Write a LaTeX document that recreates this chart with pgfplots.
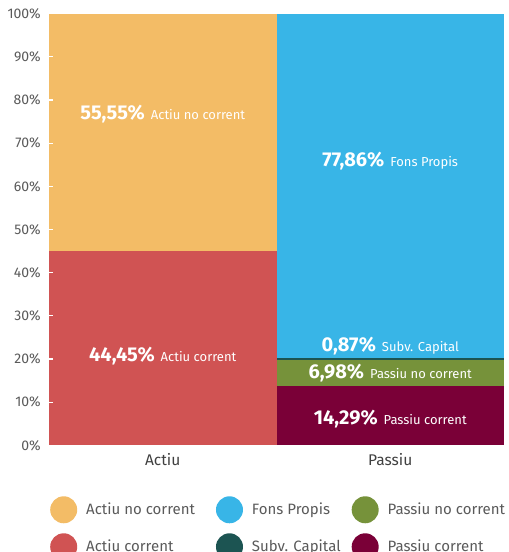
\documentclass[border=0pt]{standalone}
\usepackage{pgfplots}
\usepackage{pgfplotstable}
\pgfplotsset{compat=1.18}
\usepackage{fontspec}
\setmainfont{Fira Sans}
\definecolor{cOrange}{HTML}{F3BC66}
\definecolor{cRed}{HTML}{D05353}
\definecolor{cBlue}{HTML}{38B5E7}
\definecolor{cGreen}{HTML}{76923A}
\definecolor{cTeal}{HTML}{1C5452}
\definecolor{cMaroon}{HTML}{7A0037}
\definecolor{cTick}{HTML}{5A5A5A}
\newcommand{\lbl}[2]{{\fontsize{20}{20}\selectfont\bfseries #1\%}\hspace{6pt}{\fontsize{13}{13}\selectfont #2}}
% segment heights as drawn in the reference (labels give the stated shares)
\pgfplotstableread{
x  Acor   Anc    Pcor   Pnc   Subv  Fons
0  45.0   55.0   0      0     0     0
1  0      0      13.7   6.1   0.5   79.7
}\datatable
\begin{document}
\begin{tikzpicture}
\useasboundingbox (0,0) rectangle (509pt,-552pt);
\begin{axis}[
  at={(49pt,-445.3pt)}, anchor=south west,
  scale only axis, width=455pt, height=431.6pt,
  ybar stacked, bar width=1,
  xmin=-0.5, xmax=1.5, ymin=0, ymax=100,
  axis line style={draw=none},
  axis on top,
  xtick={0,1}, xticklabels={Actiu,Passiu},
  ytick={0,10,...,100},
  yticklabels={0\%,10\%,20\%,30\%,40\%,50\%,60\%,70\%,80\%,90\%,100\%},
  xtick style={draw=none},
  ytick style={draw=white, line width=1.2pt},
  tick align=inside, major tick length=4pt,
  ytick pos=left,
  yticklabel style={font=\fontsize{14}{14}\selectfont, text=cTick, inner sep=0pt, xshift=-8pt},
  xticklabel style={font=\fontsize{15.5}{15.5}\selectfont, text=black!75, inner sep=0pt, yshift=-8pt},
  legend image code/.code={\fill[#1, draw=none] (13.5pt,0pt) circle (13.5pt);},
  legend columns=3,
  legend style={at={(0,-0.113)}, anchor=north west, xshift=-2pt, draw=none, fill=none,
    font=\fontsize{15}{15}\selectfont, text=cTick,
    nodes={inner sep=0pt, anchor=west},
    /tikz/every odd column/.append style={column sep=9pt},
    /tikz/column 2/.append style={column sep=21pt},
    /tikz/column 4/.append style={column sep=11pt},
    row sep=10pt},
  legend cell align=left,
  clip=false,
]
\addplot[fill=cRed, draw=none, forget plot] table[x=x, y=Acor] {\datatable};
\addplot[fill=cOrange, draw=none, forget plot] table[x=x, y=Anc] {\datatable};
\addplot[fill=cMaroon, draw=none, forget plot] table[x=x, y=Pcor] {\datatable};
\addplot[fill=cGreen, draw=none, forget plot] table[x=x, y=Pnc] {\datatable};
\addplot[fill=cTeal, draw=none, forget plot] table[x=x, y=Subv] {\datatable};
\addplot[fill=cBlue, draw=none, forget plot] table[x=x, y=Fons] {\datatable};
\addlegendimage{fill=cOrange}\addlegendentry{Actiu no corrent}
\addlegendimage{fill=cBlue}\addlegendentry{Fons Propis}
\addlegendimage{fill=cGreen}\addlegendentry{Passiu no corrent}
\addlegendimage{fill=cRed}\addlegendentry{Actiu corrent}
\addlegendimage{fill=cTeal}\addlegendentry{Subv. Capital}
\addlegendimage{fill=cMaroon}\addlegendentry{Passiu corrent}
\coordinate (L1) at (axis cs:0,75.6);
\coordinate (L2) at (axis cs:0,19.4);
\coordinate (L3) at (axis cs:1,64.7);
\coordinate (L4) at (axis cs:1,21.7);
\coordinate (L5) at (axis cs:1,15.4);
\coordinate (L6) at (axis cs:1,4.9);
\end{axis}
\node[anchor=base, text=white, inner sep=0pt] at (L1) {\lbl{55,55}{Actiu no corrent}};
\node[anchor=base, text=white, inner sep=0pt] at (L2) {\lbl{44,45}{Actiu corrent}};
\node[anchor=base, text=white, inner sep=0pt] at (L3) {\lbl{77,86}{Fons Propis}};
\node[anchor=base, text=white, inner sep=0pt] at (L4) {\lbl{0,87}{Subv. Capital}};
\node[anchor=base, text=white, inner sep=0pt] at (L5) {\lbl{6,98}{Passiu no corrent}};
\node[anchor=base, text=white, inner sep=0pt] at (L6) {\lbl{14,29}{Passiu corrent}};
\end{tikzpicture}
\end{document}
